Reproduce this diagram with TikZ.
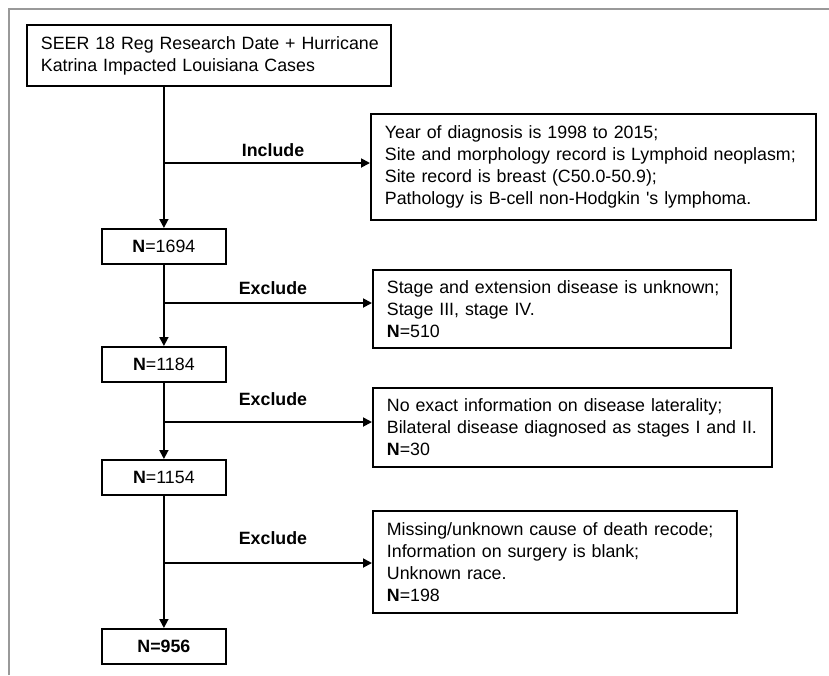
\documentclass[tikz,border=0pt]{standalone}
\usepackage{fontspec}
\setmainfont{Liberation Sans}
\usetikzlibrary{arrows.meta}

\begin{document}
\begin{tikzpicture}[x=1pt,y=-1pt,
  font=\fontsize{17.8}{22}\selectfont,
  box/.style={draw,line width=1.8pt,anchor=north west,inner sep=0pt},
  nbox/.style={box,minimum width=124pt,minimum height=35pt},
  textbox/.style={box,align=left,inner xsep=14pt},
  link/.style={draw,line width=1.8pt,-{Triangle[length=9pt,width=9pt]}},
  tag/.style={font=\fontsize{17.8}{22}\selectfont\bfseries}]
\useasboundingbox (0,0) rectangle (829,675);
% frame
\draw[line width=2pt,gray!80] (9,675) -- (9,9) -- (829,9);
% boxes
\node[textbox,text width=336pt,minimum height=61pt] (src) at (26,24)
  {\mbox{SEER 18 Reg Research Date + Hurricane}\\\mbox{Katrina Impacted Louisiana Cases}};
\node[textbox,text width=417pt,minimum height=106pt] (incl) at (370,113)
  {\mbox{Year of diagnosis is 1998 to 2015;}\\\mbox{Site and morphology record is Lymphoid neoplasm;}\\\mbox{Site record is breast (C50.0-50.9);}\\\mbox{Pathology is B-cell non-Hodgkin \textquotesingle s lymphoma.}};
\node[nbox] (n1) at (101,228) {\textbf{N}=1694};
\node[textbox,text width=330pt,minimum height=78pt] (ex1) at (372,269)
  {\mbox{Stage and extension disease is unknown;}\\\mbox{Stage III, stage IV.}\\\textbf{N}=510};
\node[nbox] (n2) at (101,346) {\textbf{N}=1184};
\node[textbox,text width=371pt,minimum height=79pt] (ex2) at (372,387)
  {\mbox{No exact information on disease laterality;}\\\mbox{Bilateral disease diagnosed as stages I and II.}\\\textbf{N}=30};
\node[nbox] (n3) at (101,459) {\textbf{N}=1154};
\node[textbox,text width=336pt,minimum height=102pt] (ex3) at (372,510)
  {\mbox{Missing/unknown cause of death recode;}\\\mbox{Information on surgery is blank;}\\\mbox{Unknown race.}\\\textbf{N}=198};
\node[nbox] (n4) at (101,628) {\textbf{N=956}};
% labels
\node[tag] (inc) at (273,150) {Include};
\node[tag] (exa) at (273,288) {Exclude};
\node[tag] (exb) at (273,399) {Exclude};
\node[tag] (exc) at (273,538) {Exclude};
% junctions on the trunk
\coordinate (j0) at (163,163);
\coordinate (j1) at (163,303);
\coordinate (j2) at (163,422);
\coordinate (j3) at (163,563);
% connectors
\draw[link] (src.south -| n1.north) -- (n1.north);
\draw[link] (j0) -- (j0 -| incl.west);
\draw[link] (n1.south) -- (n2.north);
\draw[link] (j1) -- (j1 -| ex1.west);
\draw[link] (n2.south) -- (n3.north);
\draw[link] (j2) -- (j2 -| ex2.west);
\draw[link] (n3.south) -- (n4.north);
\draw[link] (j3) -- (j3 -| ex3.west);
\end{tikzpicture}
\end{document}
